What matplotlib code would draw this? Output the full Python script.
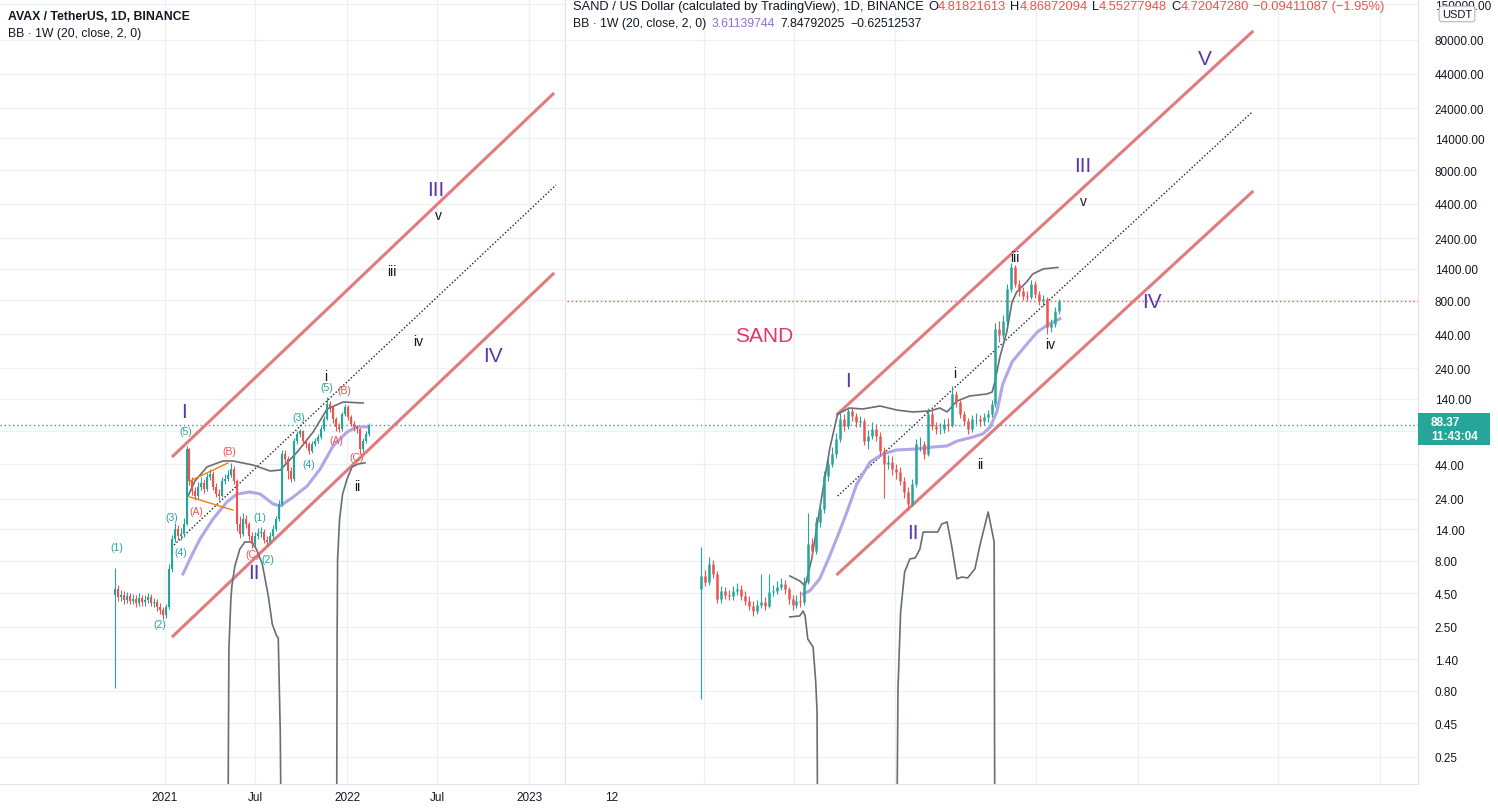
import matplotlib

matplotlib.use("Agg")

import matplotlib.pyplot as plt
import numpy as np
import pandas as pd
from matplotlib.patches import Rectangle
from matplotlib.ticker import FixedLocator, NullLocator

plt.rcParams["font.family"] = ["Liberation Sans", "DejaVu Sans"]

UP = "#26a69a"
DOWN = "#ef5350"
TEXT = "#131722"
GRID = "#eef0f4"
BORDER = "#e0e3eb"
CHANNEL = "#e07b7f"
BB_BAND = "#6a6d78"
BB_BASIS = "#b2a6e6"
WAVE = "#5e35b1"

# ---- AVAX / USDT, 6-day candles ----
avax_start = "2020-09-22"
avax_open0 = 4.40
avax_close = [
    4.86, 4.22, 4.37, 4.00, 4.29, 3.93, 4.07, 3.79, 4.14, 3.86,
    4.00, 4.22, 3.79, 3.86, 3.53, 3.35, 3.07, 3.53, 6.91, 11.75,
    14.0, 12.39, 12.82, 15.29, 57.7, 32.8, 27.5, 25.1, 29.5, 31.7,
    28.5, 35.2, 37.1, 29.5, 26.0, 25.1, 32.8, 34.0, 36.5, 40.5,
    32.8, 15.3, 12.8, 16.7, 15.3, 12.4, 10.76, 12.4, 13.0, 13.3,
    11.54, 11.15, 12.4, 14.0, 16.7, 21.8, 52.8, 48.4, 39.1, 34.0,
    66.5, 75.3, 79.4, 66.5, 63.1, 55.7, 63.1, 66.5, 71.4, 82.3,
    98.1, 128.0, 121.5, 98.1, 85.3, 82.3, 107.1, 121.5, 101.6, 90.0,
    85.3, 82.3, 57.7, 66.5, 75.3, 88.37,
]
avax_high = [
    7.04, 5.2, 4.75, 4.7, 4.6, 4.55, 4.45, 4.35, 4.5, 4.4,
    4.35, 4.55, 4.45, 4.15, 4.05, 3.8, 3.5, 3.75, 7.5, 12.6,
    15.5, 15.0, 14.2, 17.0, 60.9, 59.0, 35.0, 29.5, 32.0, 35.0,
    34.0, 38.0, 40.5, 39.0, 31.5, 28.5, 35.0, 37.0, 40.0, 45.0,
    43.0, 34.0, 17.5, 18.5, 18.0, 16.0, 13.2, 13.4, 14.2, 14.5,
    14.0, 12.3, 13.2, 15.0, 17.8, 23.5, 57.0, 57.0, 51.0, 42.0,
    70.0, 79.0, 82.0, 81.0, 70.0, 65.0, 66.0, 70.0, 75.0, 86.0,
    104.0, 146.0, 135.0, 124.0, 102.0, 92.0, 112.0, 128.0, 125.0, 106.0,
    95.0, 89.0, 84.0, 70.0, 79.0, 92.0,
]
avax_low = [
    0.84, 3.95, 3.95, 3.75, 3.8, 3.7, 3.7, 3.55, 3.6, 3.6,
    3.6, 3.8, 3.6, 3.5, 3.3, 3.1, 2.85, 2.9, 3.4, 6.6,
    11.2, 11.5, 11.6, 12.2, 15.0, 30.5, 25.5, 23.5, 24.0, 28.0,
    26.5, 27.5, 33.5, 28.0, 24.5, 23.5, 24.5, 31.0, 32.5, 35.0,
    31.0, 13.5, 12.0, 12.3, 14.2, 11.6, 10.0, 10.3, 11.8, 12.2,
    11.0, 10.4, 10.7, 12.0, 13.5, 16.2, 21.0, 45.0, 34.0, 32.0,
    33.0, 63.0, 71.0, 62.0, 59.0, 53.0, 54.0, 61.0, 64.0, 69.0,
    80.0, 96.0, 112.0, 92.0, 80.0, 78.0, 80.0, 104.0, 96.0, 86.0,
    80.0, 76.0, 53.0, 55.0, 64.0, 73.0,
]
avax_last = 88.37

# weekly Bollinger bands (20, close, 2) on AVAX
avax_bb_upper_dates = ["2021-02-16", "2021-03-02", "2021-03-26", "2021-04-27", "2021-05-17", "2021-06-26",
                       "2021-07-31", "2021-08-20", "2021-09-23", "2021-10-25", "2021-11-22", "2021-12-24",
                       "2022-02-02"]
avax_bb_upper = [25.1, 32.8, 42.0, 46.7, 46.7, 43.5, 39.1, 39.8, 54.7, 78.0, 117.1, 132.5, 130.2]
avax_bb_basis_dates = ["2021-02-06", "2021-02-20", "2021-03-12", "2021-04-07", "2021-05-05", "2021-05-25",
                       "2021-06-20", "2021-07-11", "2021-08-06", "2021-08-20", "2021-09-15", "2021-10-13",
                       "2021-11-08", "2021-12-04", "2022-01-01", "2022-01-21", "2022-02-10"]
avax_bb_basis = [6.33, 8.25, 11.75, 16.7, 22.6, 26.0, 27.0, 26.0, 21.8, 21.1, 24.7, 30.0, 40.5, 60.9, 78.0,
                 85.3, 85.3]
avax_bb_lower1_dates = ["2021-05-07", "2021-05-09", "2021-05-13", "2021-05-15", "2021-05-21", "2021-05-31",
                        "2021-06-10", "2021-06-24", "2021-07-03", "2021-07-15", "2021-07-27", "2021-08-04",
                        "2021-08-12", "2021-08-16", "2021-08-20", "2021-08-22"]
avax_bb_lower1 = [0.05, 1.68, 4.07, 5.12, 7.29, 9.85, 11.15, 11.15, 9.85, 7.55, 4.29, 2.61, 2.15, 2.04, 0.387, 0.05]
avax_bb_lower2_dates = ["2021-12-11", "2021-12-12", "2021-12-13", "2021-12-17", "2021-12-23", "2022-01-01",
                        "2022-01-11", "2022-01-23", "2022-02-06"]
avax_bb_lower2 = [0.05, 2.00, 8.25, 16.7, 26.0, 34.0, 42.0, 44.3, 45.2]

# channel drawn on AVAX
avax_channel_dates = ["2021-01-17", "2023-02-18"]
avax_channel_upper = [51.0, 30750]
avax_channel_lower = [2.11, 1275]
avax_mid_dates = ["2021-01-19", "2023-02-24"]
avax_mid = [10.57, 6150]
avax_tri_upper_dates = ["2021-02-20", "2021-05-07"]
avax_tri_upper = [32.8, 45.1]
avax_tri_lower_dates = ["2021-02-20", "2021-05-17"]
avax_tri_lower = [24.7, 19.6]

avax_big_waves = [("I", "2021-02-08", 113), ("II", "2021-06-28", 6.55), ("III", "2022-06-27", 5730),
                  ("IV", "2022-10-21", 304)]
avax_small_waves = [("i", "2021-11-20", 210), ("ii", "2022-01-21", 30.0), ("iii", "2022-04-01", 1344),
                    ("iv", "2022-05-23", 390), ("v", "2022-07-03", 3618)]
avax_impulse = [("(1)", "2020-09-27", 10.2), ("(2)", "2020-12-22", 2.61), ("(3)", "2021-01-15", 17.3),
                ("(4)", "2021-02-02", 9.33), ("(5)", "2021-02-12", 79.4), ("(1)", "2021-07-11", 17.3),
                ("(2)", "2021-07-27", 8.25), ("(3)", "2021-09-27", 101.6), ("(4)", "2021-10-17", 44.3),
                ("(5)", "2021-11-22", 172.8)]
avax_correction = [("(A)", "2021-03-04", 19.3), ("(B)", "2021-05-09", 55.7), ("(C)", "2021-06-26", 9.01),
                   ("(A)", "2021-12-10", 67.7), ("(B)", "2021-12-26", 163.8), ("(C)", "2022-01-21", 50.1)]

# ---- SAND / USD, 6-day candles ----
sand_start = "2020-08-14"
sand_open0 = 0.0603
sand_close = [
    0.0734, 0.0670, 0.0880, 0.0756, 0.0518, 0.0585, 0.0550, 0.0542, 0.0585, 0.0603,
    0.0542, 0.0503, 0.0466, 0.0432, 0.0473, 0.0495, 0.0466, 0.0576, 0.0585, 0.0622,
    0.0650, 0.0603, 0.0518, 0.0473, 0.0503, 0.0495, 0.0670, 0.119, 0.107, 0.166,
    0.202, 0.333, 0.400, 0.465, 0.584, 0.790, 0.711, 0.892, 0.827, 0.755,
    0.766, 0.567, 0.611, 0.679, 0.611, 0.487, 0.400, 0.412, 0.370, 0.354,
    0.309, 0.262, 0.218, 0.295, 0.541, 0.541, 0.465, 0.852, 0.711, 0.679,
    0.679, 0.732, 0.721, 1.154, 1.022, 0.852, 0.766, 0.679, 0.790, 0.790,
    0.766, 0.814, 0.852, 0.992, 3.09, 2.82, 3.48, 5.66, 7.91, 6.11,
    5.49, 5.10, 5.02, 6.11, 5.25, 4.72, 4.87, 3.19, 3.33, 4.06, 4.72,
]
sand_high = [
    0.114, 0.080, 0.098, 0.094, 0.079, 0.063, 0.062, 0.059, 0.063, 0.066,
    0.064, 0.058, 0.054, 0.050, 0.051, 0.075, 0.053, 0.076, 0.064, 0.068,
    0.071, 0.069, 0.062, 0.055, 0.055, 0.058, 0.072, 0.19, 0.13, 0.18,
    0.23, 0.36, 0.44, 0.52, 0.64, 0.86, 0.85, 0.95, 0.93, 0.87,
    0.83, 0.80, 0.67, 0.75, 0.73, 0.65, 0.52, 0.46, 0.45, 0.40,
    0.38, 0.33, 0.28, 0.32, 0.58, 0.60, 0.57, 0.93, 0.90, 0.76,
    0.74, 0.79, 0.80, 1.30, 1.20, 1.06, 0.89, 0.80, 0.84, 0.86,
    0.84, 0.87, 0.91, 1.06, 3.40, 3.50, 3.80, 6.10, 8.40, 8.20,
    6.50, 5.80, 5.50, 6.50, 6.40, 5.50, 5.20, 5.00, 3.60, 4.30, 4.87,
]
sand_low = [
    0.0114, 0.063, 0.064, 0.071, 0.049, 0.049, 0.052, 0.051, 0.051, 0.055,
    0.051, 0.047, 0.044, 0.040, 0.041, 0.045, 0.044, 0.045, 0.054, 0.056,
    0.059, 0.056, 0.048, 0.044, 0.045, 0.046, 0.047, 0.065, 0.098, 0.102,
    0.155, 0.19, 0.31, 0.38, 0.44, 0.56, 0.66, 0.68, 0.77, 0.70,
    0.70, 0.53, 0.50, 0.58, 0.57, 0.45, 0.24, 0.37, 0.34, 0.32,
    0.29, 0.24, 0.20, 0.21, 0.28, 0.49, 0.43, 0.45, 0.67, 0.63,
    0.63, 0.64, 0.66, 0.70, 0.95, 0.80, 0.72, 0.63, 0.65, 0.73,
    0.71, 0.72, 0.76, 0.82, 0.95, 2.55, 2.65, 3.30, 5.40, 5.80,
    5.10, 4.80, 4.70, 4.85, 4.95, 4.45, 4.40, 2.85, 2.95, 3.20, 3.90,
]
sand_last = 4.72047280

sand_bb_upper_dates = ["2020-12-26", "2021-01-10", "2021-01-18", "2021-01-28", "2021-02-09", "2021-02-24",
                       "2021-03-08", "2021-03-26", "2021-04-15", "2021-05-11", "2021-06-05", "2021-06-29",
                       "2021-07-25", "2021-08-09", "2021-08-20", "2021-09-04", "2021-09-23", "2021-10-19",
                       "2021-10-27", "2021-10-31", "2021-11-08", "2021-11-18", "2021-11-26", "2021-12-03",
                       "2021-12-18", "2021-12-27", "2022-01-12", "2022-02-03"]
sand_bb_upper = [0.0733, 0.0679, 0.0630, 0.0949, 0.202, 0.502, 0.852, 0.933, 0.919, 0.962, 0.905, 0.879,
                 0.892, 0.933, 0.879, 1.037, 1.119, 1.154, 1.189, 1.384, 2.05, 2.95, 4.65, 5.41, 6.30, 7.10,
                 7.67, 7.85]
sand_bb_basis_dates = ["2021-01-15", "2021-01-25", "2021-02-09", "2021-02-24", "2021-03-08", "2021-03-22",
                       "2021-04-06", "2021-04-26", "2021-05-15", "2021-06-05", "2021-07-06", "2021-07-30",
                       "2021-08-20", "2021-09-04", "2021-09-23", "2021-10-13", "2021-10-24", "2021-11-03",
                       "2021-11-12", "2021-11-26", "2021-12-12", "2022-01-03", "2022-01-18", "2022-02-06"]
sand_bb_basis = [0.0558, 0.0585, 0.0701, 0.0992, 0.134, 0.193, 0.295, 0.412, 0.465, 0.494, 0.502, 0.517,
                 0.525, 0.566, 0.593, 0.630, 0.700, 0.879, 1.342, 1.874, 2.28, 2.95, 3.27, 3.61]
sand_bb_lower1_dates = ["2020-12-26", "2021-01-10", "2021-01-15", "2021-01-18", "2021-01-22", "2021-01-30",
                        "2021-02-03", "2021-02-05", "2021-02-06"]
sand_bb_lower1 = [0.0394, 0.0400, 0.0431, 0.0400, 0.0282, 0.0250, 0.0147, 0.00932, 0.001]
sand_bb_lower2_dates = ["2021-06-05", "2021-06-07", "2021-06-11", "2021-06-17", "2021-06-25", "2021-07-03",
                        "2021-07-10", "2021-07-15", "2021-07-25", "2021-08-06", "2021-08-12", "2021-08-20",
                        "2021-08-27", "2021-09-04", "2021-09-11", "2021-09-20", "2021-10-01", "2021-10-09",
                        "2021-10-21", "2021-10-30", "2021-10-31"]
sand_bb_lower2 = [0.001, 0.0132, 0.0425, 0.0778, 0.0949, 0.0962, 0.110, 0.1426, 0.1426, 0.1426, 0.161, 0.166,
                  0.1154, 0.0701, 0.0721, 0.0711, 0.0816, 0.119, 0.193, 0.1226, 0.001]

sand_channel_dates = ["2021-03-08", "2022-11-23"]
sand_channel_upper = [0.852, 278]
sand_channel_lower = [0.0755, 24.6]
sand_mid = [0.246, 82.7]

sand_big_waves = [("I", "2021-03-23", 1.426), ("II", "2021-06-29", 0.1426), ("III", "2022-03-13", 37.0),
                  ("IV", "2022-06-25", 4.65), ("V", "2022-09-13", 185)]
sand_small_waves = [("i", "2021-09-01", 1.586), ("ii", "2021-10-09", 0.400), ("iii", "2021-11-30", 9.19),
                    ("iv", "2022-01-22", 2.46), ("v", "2022-03-13", 21.5)]
sand_name = ("SAND", "2020-11-18", 2.78)

# ---- axes scales / ticks ----
price_ticks = [0.25, 0.45, 0.80, 1.40, 2.50, 4.50, 8.00, 14.00, 24.00, 44.00, 80.00, 140.00, 240.00, 440.00,
               800.00, 1400.00, 2400.00, 4400.00, 8000.00, 14000.00, 24000.00, 44000.00, 80000.00, 150000.00]
hidden_tick = 80.00
avax_ylim = (0.1543, 165000)
sand_ylim = (0.003135, 457.9)
left_xlim = ("2020-02-05", "2023-03-14")
right_xlim = ("2020-01-25", "2023-07-31")
left_time_ticks = ["2021-01-01", "2021-07-01", "2022-01-01", "2022-07-01", "2023-01-01"]
left_time_labels = ["2021", "Jul", "2022", "Jul", "2023"]
right_grid_dates = ["2020-08-18", "2021-01-01", "2021-06-02", "2022-01-01", "2022-06-04", "2023-01-01",
                    "2023-06-04"]
right_time_ticks = ["2020-04-02"]
right_time_labels = ["12"]

W, H = 1498, 812


def box(x0, y0, x1, y1):
    return [x0 / W, 1 - y1 / H, (x1 - x0) / W, (y1 - y0) / H]


def candles(ax, start, closes, highs, lows, open0, lw):
    dates = pd.date_range(start, periods=len(closes), freq="6D")
    closes = np.asarray(closes, dtype=float)
    opens = np.concatenate([[open0], closes[:-1]])
    colors = np.where(closes >= opens, UP, DOWN)
    ax.vlines(dates, lows, highs, colors=colors, linewidth=0.8, zorder=3)
    ax.vlines(dates, np.minimum(opens, closes), np.maximum(opens, closes), colors=colors, linewidth=lw, zorder=3)


def line(ax, dates, values, **kw):
    ax.plot(pd.to_datetime(dates), values, **kw)


def labels(ax, items, **kw):
    for s, d, v in items:
        ax.text(pd.Timestamp(d), v, s, ha="center", va="center", zorder=6, **kw)


def text_run(x, y, parts, size, weight="normal"):
    t = fig.text(x / W, 1 - y / H, parts[0][0], color=parts[0][1], fontsize=size, weight=weight, va="center")
    for s, c, gap in parts[1:]:
        t = fig.add_artist(matplotlib.text.Annotation(
            s, xy=(1, 0), xycoords=t, xytext=(gap, 0), textcoords="offset points",
            color=c, fontsize=size, weight=weight, va="bottom", ha="left"))
    return t


fig = plt.figure(figsize=(W / 100, H / 100), dpi=100)
ax_l = fig.add_axes(box(0, 0, 565, 785))
ax_r = fig.add_axes(box(567, 0, 1418, 785))
ax_s = ax_r.twinx()

for ax in (ax_l, ax_r, ax_s):
    ax.set_yscale("log")
    for sp in ax.spines.values():
        sp.set_visible(False)
ax_l.set_ylim(*avax_ylim)
ax_r.set_ylim(*avax_ylim)
ax_s.set_ylim(*sand_ylim)
ax_l.set_xlim(pd.to_datetime(left_xlim))
ax_r.set_xlim(pd.to_datetime(right_xlim))
ax_s.set_xlim(pd.to_datetime(right_xlim))

for ax in (ax_l, ax_r):
    ax.spines["bottom"].set_visible(True)
    ax.spines["bottom"].set_color(BORDER)
    ax.spines["right"].set_visible(True)
    ax.spines["right"].set_color(BORDER)
    for v in price_ticks:
        ax.axhline(v, color=GRID, lw=1, zorder=0)
    ax.yaxis.set_minor_locator(NullLocator())

ax_l.yaxis.set_major_locator(NullLocator())
ax_s.yaxis.set_major_locator(NullLocator())
ax_s.yaxis.set_minor_locator(NullLocator())
ax_s.tick_params(axis="both", which="both", length=0, labelright=False, labelbottom=False)

shown = [v for v in price_ticks if v != hidden_tick]
ax_r.yaxis.tick_right()
ax_r.yaxis.set_major_locator(FixedLocator(shown))
ax_r.set_yticklabels([f"{v:.2f}" for v in shown])
ax_r.tick_params(axis="y", length=0, pad=12, labelsize=8.5, labelcolor=TEXT)

for d in left_time_ticks:
    ax_l.axvline(pd.Timestamp(d), color=GRID, lw=1, zorder=0)
for d in right_grid_dates:
    ax_r.axvline(pd.Timestamp(d), color=GRID, lw=1, zorder=0)
ax_l.set_xticks(pd.to_datetime(left_time_ticks))
ax_l.set_xticklabels(left_time_labels)
ax_r.set_xticks(pd.to_datetime(right_time_ticks))
ax_r.set_xticklabels(right_time_labels)
for ax in (ax_l, ax_r):
    ax.tick_params(axis="x", length=0, pad=5, labelsize=8.5, labelcolor=TEXT)

# ---- left: AVAX ----
ax_l.axhline(avax_last, color=UP, lw=1, ls=(0, (1, 2)), zorder=2)
line(ax_l, avax_channel_dates, avax_channel_upper, color=CHANNEL, lw=2.2, zorder=2)
line(ax_l, avax_channel_dates, avax_channel_lower, color=CHANNEL, lw=2.2, zorder=2)
line(ax_l, avax_mid_dates, avax_mid, color="#222222", lw=1, ls=(0, (1, 1.5)), zorder=2)
line(ax_l, avax_bb_basis_dates, avax_bb_basis, color=BB_BASIS, lw=2.2, zorder=2)
line(ax_l, avax_bb_upper_dates, avax_bb_upper, color=BB_BAND, lw=1.2, zorder=2)
line(ax_l, avax_bb_lower1_dates, avax_bb_lower1, color=BB_BAND, lw=1.2, zorder=2)
line(ax_l, avax_bb_lower2_dates, avax_bb_lower2, color=BB_BAND, lw=1.2, zorder=2)
line(ax_l, avax_tri_upper_dates, avax_tri_upper, color="#f57c00", lw=1, zorder=4)
line(ax_l, avax_tri_lower_dates, avax_tri_lower, color="#f57c00", lw=1, zorder=4)
candles(ax_l, avax_start, avax_close, avax_high, avax_low, avax_open0, 1.5)

labels(ax_l, avax_big_waves, color=WAVE, fontsize=15)
labels(ax_l, avax_small_waves, color=TEXT, fontsize=10)
labels(ax_l, avax_impulse, color=UP, fontsize=7.5)
labels(ax_l, avax_correction, color=DOWN, fontsize=7.5)

# ---- right: SAND ----
ax_r.axhline(avax_last, color=UP, lw=1, ls=(0, (1, 2)), zorder=2)
ax_s.axhline(sand_last, color=DOWN, lw=1, ls=(0, (1, 2)), zorder=2)
line(ax_s, sand_channel_dates, sand_channel_upper, color=CHANNEL, lw=2.2, zorder=2)
line(ax_s, sand_channel_dates, sand_channel_lower, color=CHANNEL, lw=2.2, zorder=2)
line(ax_s, sand_channel_dates, sand_mid, color="#222222", lw=1, ls=(0, (1, 1.5)), zorder=2)
line(ax_s, sand_bb_basis_dates, sand_bb_basis, color=BB_BASIS, lw=2.2, zorder=2)
line(ax_s, sand_bb_upper_dates, sand_bb_upper, color=BB_BAND, lw=1.2, zorder=2)
line(ax_s, sand_bb_lower1_dates, sand_bb_lower1, color=BB_BAND, lw=1.2, zorder=2)
line(ax_s, sand_bb_lower2_dates, sand_bb_lower2, color=BB_BAND, lw=1.2, zorder=2)
candles(ax_s, sand_start, sand_close, sand_high, sand_low, sand_open0, 1.8)

labels(ax_s, sand_big_waves, color=WAVE, fontsize=15)
labels(ax_s, sand_small_waves, color=TEXT, fontsize=10)
labels(ax_s, [sand_name], color="#e8336b", fontsize=15)

# ---- headers ----
text_run(8, 17, [("AVAX / TetherUS, 1D, BINANCE", TEXT)], 8.8, weight="bold")
text_run(8, 34, [("BB · 1W (20, close, 2, 0)", TEXT)], 8.8)
text_run(573, 7, [("SAND / US Dollar (calculated by TradingView), 1D, BINANCE", TEXT),
                  ("O", TEXT, 3), ("4.81821613", DOWN, 0), ("H", TEXT, 3), ("4.86872094", DOWN, 0),
                  ("L", TEXT, 3), ("4.55277948", DOWN, 0), ("C", TEXT, 3), ("4.72047280", DOWN, 0),
                  ("−0.09411087 (−1.95%)", DOWN, 3)], 9.3)
text_run(573, 24, [("BB · 1W (20, close, 2, 0)", TEXT), ("3.61139744", "#8e6fd6", 4),
                   ("7.84792025", TEXT, 4), ("−0.62512537", TEXT, 4)], 8.8)

# price scale extras
fig.add_artist(Rectangle((1418 / W, 1 - 446 / H), 72 / W, 32 / H, transform=fig.transFigure,
                         facecolor=UP, edgecolor="none", zorder=5))
fig.text(1431 / W, 1 - 423 / H, f"{avax_last:.2f}", color="white", fontsize=8.5, weight="bold", va="center",
         zorder=6)
fig.text(1431 / W, 1 - 437 / H, "11:43:04", color="white", fontsize=8.5, weight="bold", va="center", zorder=6)
fig.text(1457 / W, 1 - 15 / H, "USDT", color=TEXT, fontsize=8, ha="center", va="center", zorder=6,
         bbox=dict(boxstyle="round,pad=0.25", fc="white", ec="#b2b5be", lw=0.8))

fig.savefig("out.png", dpi=100, facecolor="white")
